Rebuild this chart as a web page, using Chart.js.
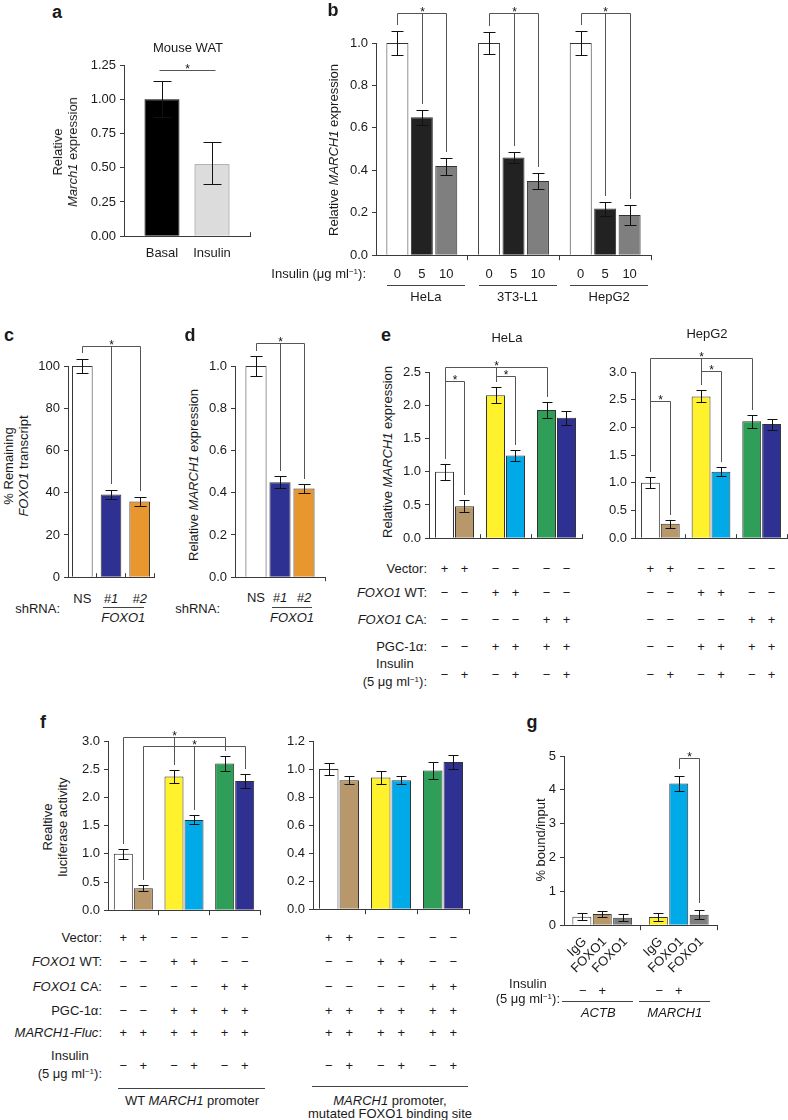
<!DOCTYPE html>
<html><head><meta charset="utf-8">
<script src="https://cdn.jsdelivr.net/npm/chart.js@4.4.0/dist/chart.umd.min.js"></script>
<style>
html,body{margin:0;padding:0;background:#fff;}
#fig{position:relative;width:788px;height:1120px;overflow:hidden;font-family:'Liberation Sans',Arial,Helvetica,sans-serif;font-size:13px;color:#1a1a1a;}
canvas{position:absolute;}
.t{position:absolute;white-space:nowrap;line-height:1;}
.lbl{font-weight:bold;font-size:18px;}
.hl{position:absolute;height:0;border-top:1px solid #444;}
.sup{font-size:8px;position:relative;top:-4px;}
</style></head><body><div id="fig"></div>
<script>
// ---------------- data ----------------
// a: Mouse WAT
const aLabels = ['Basal', 'Insulin'];
const aValues = [1.00, 0.525];
const aErrLow = [0.13, 0.145];
const aErrHigh = [0.135, 0.165];
// b: insulin dose
const bCells = ['HeLa', '3T3-L1', 'HepG2'];
const bDoses = ['0', '5', '10'];
const bDose0 = [1.00, 1.00, 1.00];
const bErr0 = [0.055, 0.05, 0.055];
const bDose5 = [0.65, 0.46, 0.22];
const bErr5 = [0.035, 0.027, 0.033];
const bDose10 = [0.42, 0.35, 0.19];
const bErr10 = [0.04, 0.038, 0.047];
// c, d: shRNA
const cLabels = ['NS', '#1', '#2'];
const cValues = [100, 39.2, 35.8];
const cErr = [3.3, 2.3, 2.2];
const dValues = [1.00, 0.45, 0.42];
const dErr = [0.045, 0.03, 0.022];
// e: FOXO1 / PGC-1a (insulin − / +)
const eGroups = ['Vector', 'FOXO1 WT', 'FOXO1 CA'];
const eHeLaMinus = [1.00, 2.15, 1.93];
const eHeLaMinusErr = [0.12, 0.12, 0.12];
const eHeLaPlus = [0.48, 1.245, 1.81];
const eHeLaPlusErr = [0.09, 0.085, 0.11];
const eHepG2Minus = [1.00, 2.56, 2.11];
const eHepG2MinusErr = [0.10, 0.11, 0.12];
const eHepG2Plus = [0.26, 1.20, 2.06];
const eHepG2PlusErr = [0.07, 0.08, 0.10];
// f: luciferase
const fWTMinus = [1.00, 2.37, 2.60];
const fWTMinusErr = [0.09, 0.12, 0.13];
const fWTPlus = [0.39, 1.60, 2.29];
const fWTPlusErr = [0.055, 0.08, 0.12];
const fMutMinus = [1.00, 0.94, 0.99];
const fMutMinusErr = [0.04, 0.045, 0.06];
const fMutPlus = [0.92, 0.92, 1.05];
const fMutPlusErr = [0.03, 0.03, 0.05];
// g: ChIP
const gGenes = ['ACTB', 'MARCH1'];
const gXLabels = ['IgG', 'FOXO1', 'FOXO1'];
const gIgG = [0.25, 0.24];
const gIgGErr = [0.10, 0.13];
const gFoxo1Basal = [0.33, 4.19];
const gFoxo1BasalErr = [0.10, 0.23];
const gFoxo1Ins = [0.22, 0.31];
const gFoxo1InsErr = [0.11, 0.13];
// table rows
const eRowLabels = ['Vector:', '<i>FOXO1</i> WT:', '<i>FOXO1</i> CA:', 'PGC-1α:'];
const eRowSigns = ['++−−−−', '−−++−−', '−−−−++', '−−++++'];
const insulinSigns = '−+−+−+';
const fRowLabels = ['Vector:', '<i>FOXO1</i> WT:', '<i>FOXO1</i> CA:', 'PGC-1α:', '<i>MARCH1-Fluc</i>:'];
const fWTSigns = ['++−−−−', '−−++−−', '−−−−++', '−−++++', '++++++'];
const fMutSigns = ['++−−−−', '−−++−−', '−−−−++', '++++++', '++++++'];

// ---------------- colours ----------------
const WHITE = '#ffffff', BLACK = '#000000', LIGHT = '#dcdcdc', DARK = '#222222', GRAY = '#7f7f7f';
const NAVY = '#2e3192', ORANGE = '#e8962e', TAN = '#b8976a', YELLOW = '#fff22d', SKY = '#00aae8', GREEN = '#2f9e58';
const MINUS_COLORS = [WHITE, YELLOW, GREEN];
const PLUS_COLORS = [TAN, SKY, NAVY];
const SH_COLORS = [WHITE, NAVY, ORANGE];
const AXIS = '#3a3a3a';

Chart.defaults.font.family = "'Liberation Sans', Arial, Helvetica, sans-serif";
Chart.defaults.font.size = 13;
Chart.defaults.color = '#1a1a1a';

const fig = document.getElementById('fig');

const errorBarPlugin = {
  id: 'errbars',
  afterDatasetsDraw(chart) {
    const ctx = chart.ctx, ys = chart.scales.y;
    ctx.save(); ctx.strokeStyle = '#111'; ctx.lineWidth = 1;
    chart.data.datasets.forEach((ds, di) => {
      chart.getDatasetMeta(di).data.forEach((bar, i) => {
        const v = ds.data[i];
        const x = Math.round(bar.x) + 0.5;
        const yt = Math.round(ys.getPixelForValue(v + ds.errHigh[i])) + 0.5;
        const yb = Math.round(ys.getPixelForValue(v - ds.errLow[i])) + 0.5;
        const cw = Math.round(bar.width * 0.27);
        ctx.beginPath();
        ctx.moveTo(x, yt); ctx.lineTo(x, yb);
        ctx.moveTo(x - cw, yt); ctx.lineTo(x + cw, yt);
        ctx.moveTo(x - cw, yb); ctx.lineTo(x + cw, yb);
        ctx.stroke();
      });
    });
    ctx.restore();
  }
};

function bracketPlugin(items, gap) {
  return {
    id: 'brackets',
    afterDatasetsDraw(chart) {
      const ctx = chart.ctx, ys = chart.scales.y;
      const pt = ([d, i]) => {
        const ds = chart.data.datasets[d];
        const el = chart.getDatasetMeta(d).data[i];
        return { x: Math.round(el.x) + 0.5, yb: Math.round(ys.getPixelForValue(ds.data[i] + ds.errHigh[i]) - gap) };
      };
      ctx.save();
      ctx.strokeStyle = '#555'; ctx.lineWidth = 1; ctx.fillStyle = '#111';
      ctx.font = "12px 'Liberation Sans', Arial, sans-serif";
      ctx.textAlign = 'center'; ctx.textBaseline = 'alphabetic';
      items.forEach(b => {
        const yl = Math.round(ys.getPixelForValue(b.level)) + 0.5;
        const A = pt(b.from), B = pt(b.to);
        ctx.beginPath();
        if (b.flat) {
          ctx.moveTo(A.x - 3, yl); ctx.lineTo(B.x + 3, yl);
        } else {
          ctx.moveTo(A.x, A.yb); ctx.lineTo(A.x, yl); ctx.lineTo(B.x, yl); ctx.lineTo(B.x, B.yb);
          if (b.mid) { const M = pt(b.mid); ctx.moveTo(M.x, yl); ctx.lineTo(M.x, M.yb); }
        }
        ctx.stroke();
        const sx = b.mid ? pt(b.mid).x : (A.x + B.x) / 2;
        ctx.fillText('*', sx, yl + 2);
      });
      ctx.restore();
    }
  };
}

function makePanel(p) {
  const cv = document.createElement('canvas');
  const W = p.yW + (p.right - p.left) + p.padR;
  const H = p.padT + (p.bottom - p.top) + p.xH;
  cv.width = W; cv.height = H;
  cv.style.width = W + 'px'; cv.style.height = H + 'px';
  cv.style.left = (p.left - p.yW) + 'px'; cv.style.top = (p.top - p.padT) + 'px';
  fig.appendChild(cv);
  const ch = new Chart(cv.getContext('2d'), {
    type: 'bar',
    data: {
      labels: p.labels,
      datasets: p.datasets.map(ds => ({
        data: ds.data, errLow: ds.errLow || ds.err, errHigh: ds.errHigh || ds.err,
        backgroundColor: ds.colors, borderColor: ds.border || '#333', borderWidth: 1,
        clip: false, categoryPercentage: p.catPct, barPercentage: p.barPct
      }))
    },
    options: {
      responsive: false, animation: false, devicePixelRatio: 1,
      layout: { padding: { top: p.padT, right: p.padR, left: 0, bottom: 0 } },
      plugins: { legend: { display: false }, tooltip: { enabled: false } },
      events: [],
      scales: {
        x: {
          type: 'category', offset: true,
          ticks: { display: false },
          grid: { display: true, drawOnChartArea: false, offset: true, tickLength: p.xTick,
                  color: c => c.index === 0 ? 'rgba(0,0,0,0)' : AXIS, lineWidth: 1 },
          border: { display: true, color: AXIS, width: 1 },
          afterFit: s => { s.height = p.xH; }
        },
        y: {
          min: p.yMin, max: p.yMax,
          ticks: { stepSize: p.step, callback: v => Number(v).toFixed(p.dec), padding: 4, color: '#1a1a1a' },
          grid: { display: true, drawOnChartArea: false, tickLength: 4, color: AXIS, lineWidth: 1 },
          border: { display: true, color: AXIS, width: 1 },
          afterFit: s => { s.width = p.yW; }
        }
      }
    },
    plugins: [errorBarPlugin, bracketPlugin(p.brackets || [], p.gap || 5)]
  });
  ch.$left = p.left - p.yW;
  return ch;
}

function T(html, x, y, align, cls) {
  const d = document.createElement('div');
  d.className = 't ' + (cls || '');
  d.innerHTML = html;
  const tx = align === 'r' ? '-100%' : align === 'l' ? '0' : '-50%';
  d.style.left = x + 'px'; d.style.top = y + 'px';
  d.style.transform = 'translate(' + tx + ',-50%)';
  fig.appendChild(d);
  return d;
}
function VT(html, x, y) {
  const d = T(html, x, y, 'c');
  d.style.transform = 'translate(-50%,-50%) rotate(-90deg)';
  d.style.textAlign = 'center'; d.style.lineHeight = '15px';
  return d;
}
function RT(html, x, y) {
  const d = T(html, x, y, 'r');
  d.style.transformOrigin = '100% 50%';
  d.style.transform = 'translate(-100%,-50%) rotate(-45deg)';
  return d;
}
function HL(x1, x2, y) {
  const d = document.createElement('div');
  d.className = 'hl';
  d.style.left = x1 + 'px'; d.style.top = y + 'px'; d.style.width = (x2 - x1) + 'px';
  fig.appendChild(d);
}
const bx = (ch, d, i) => ch.$left + ch.getDatasetMeta(d).data[i].x;
const INS_LABEL = (lh) => '<div style="text-align:center;line-height:' + lh + 'px">Insulin<br>(5 μg ml<span class="sup">−1</span>):</div>';

// ---------------- panel a ----------------
const chA = makePanel({ left: 124, top: 65, right: 250, bottom: 240, yW: 45, padT: 12, padR: 6, xH: 8, xTick: -4,
  yMin: 0, yMax: 1.25, step: 0.25, dec: 2, labels: [''], catPct: 0.794, barPct: 0.7,
  datasets: [
    { data: [aValues[0]], errLow: [aErrLow[0]], errHigh: [aErrHigh[0]], colors: BLACK, border: '#000' },
    { data: [aValues[1]], errLow: [aErrLow[1]], errHigh: [aErrHigh[1]], colors: LIGHT, border: '#777' }
  ],
  brackets: [{ from: [0, 0], to: [1, 0], level: 1.21, flat: true }] });
T('<b>a</b>', 57, 12, 'c', 'lbl');
T('Mouse WAT', 188, 47);
aLabels.forEach((l, i) => T(l, bx(chA, i, 0), 252));
VT('Relative<br><i>March1</i> expression', 65, 152);

// ---------------- panel b ----------------
const chB = makePanel({ left: 376, top: 43, right: 651, bottom: 257, yW: 42, padT: 43, padR: 6, xH: 10, xTick: 5,
  yMin: 0, yMax: 1, step: 0.2, dec: 1, labels: bCells, catPct: 0.8, barPct: 0.9,
  datasets: [
    { data: bDose0, err: bErr0, colors: WHITE },
    { data: bDose5, err: bErr5, colors: DARK },
    { data: bDose10, err: bErr10, colors: GRAY }
  ],
  brackets: [0, 1, 2].map(g => ({ from: [0, g], mid: [1, g], to: [2, g], level: 1.14 })), gap: 6 });
T('<b>b</b>', 333, 10, 'c', 'lbl');
VT('Relative <i>MARCH1</i> expression', 333, 150);
T('Insulin (μg ml<span class="sup">−1</span>):', 366, 273, 'r');
bCells.forEach((c, g) => {
  bDoses.forEach((d, k) => T(d, bx(chB, k, g), 273));
  const cx = bx(chB, 1, g) + 4;
  HL(cx - 39, cx + 39, 285);
  T(c, cx, 296);
});

// ---------------- panel c ----------------
const chC = makePanel({ left: 68, top: 366, right: 154, bottom: 581, yW: 34, padT: 42, padR: 4, xH: 8, xTick: -4,
  yMin: 0, yMax: 100, step: 20, dec: 0, labels: cLabels, catPct: 1, barPct: 0.72,
  datasets: [{ data: cValues, err: cErr, colors: SH_COLORS }],
  brackets: [{ from: [0, 0], mid: [0, 1], to: [0, 2], level: 109.3 }], gap: 6 });
T('<b>c</b>', 9, 335, 'c', 'lbl');
VT('% Remaining<br><i>FOXO1</i> transcript', 16, 466);
cLabels.forEach((l, i) => T(i ? '<i>' + l + '</i>' : l, bx(chC, 0, i), 598));
HL(bx(chC, 0, 1) - 8, bx(chC, 0, 2) + 4, 607);
T('<i>FOXO1</i>', (bx(chC, 0, 1) + bx(chC, 0, 2)) / 2 - 2, 617);
T('shRNA:', 60, 608, 'r');

// ---------------- panel d ----------------
const chD = makePanel({ left: 235, top: 366, right: 325, bottom: 581, yW: 34, padT: 42, padR: 4, xH: 8, xTick: 4,
  yMin: 0, yMax: 1, step: 0.2, dec: 1, labels: [''], catPct: 0.8, barPct: 0.88,
  datasets: dValues.map((v, i) => ({ data: [v], err: [dErr[i]], colors: SH_COLORS[i] })),
  brackets: [{ from: [0, 0], mid: [1, 0], to: [2, 0], level: 1.11 }], gap: 5 });
T('<b>d</b>', 190, 335, 'c', 'lbl');
VT('Relative <i>MARCH1</i> expression', 193, 475);
cLabels.forEach((l, i) => T(i ? '<i>' + l + '</i>' : l, bx(chD, i, 0), 597));
HL(bx(chD, 1, 0) - 8, bx(chD, 2, 0) + 8, 607);
T('<i>FOXO1</i>', (bx(chD, 1, 0) + bx(chD, 2, 0)) / 2, 617);
T('shRNA:', 220, 608, 'r');

// ---------------- panel e ----------------
const eBrHeLa = [
  { from: [0, 0], to: [1, 0], level: 2.37 },
  { from: [0, 0], mid: [0, 1], to: [0, 2], level: 2.57 },
  { from: [0, 1], to: [1, 1], level: 2.44 }
];
const eBrHepG2 = [
  { from: [0, 0], to: [1, 0], level: 2.47 },
  { from: [0, 0], mid: [0, 1], to: [0, 2], level: 3.26 },
  { from: [0, 1], to: [1, 1], level: 3.02 }
];
const chE1 = makePanel({ left: 429, top: 372, right: 582, bottom: 542, yW: 34, padT: 32, padR: 4, xH: 8, xTick: -4,
  yMin: 0, yMax: 2.5, step: 0.5, dec: 1, labels: eGroups, catPct: 0.784, barPct: 0.95,
  datasets: [
    { data: eHeLaMinus, err: eHeLaMinusErr, colors: MINUS_COLORS },
    { data: eHeLaPlus, err: eHeLaPlusErr, colors: PLUS_COLORS }
  ], brackets: eBrHeLa, gap: 5 });
const chE2 = makePanel({ left: 635, top: 372, right: 787, bottom: 542, yW: 34, padT: 42, padR: 1, xH: 8, xTick: -4,
  yMin: 0, yMax: 3, step: 0.5, dec: 1, labels: eGroups, catPct: 0.784, barPct: 0.95,
  datasets: [
    { data: eHepG2Minus, err: eHepG2MinusErr, colors: MINUS_COLORS },
    { data: eHepG2Plus, err: eHepG2PlusErr, colors: PLUS_COLORS }
  ], brackets: eBrHepG2, gap: 5 });
T('<b>e</b>', 386, 335, 'c', 'lbl');
T('HeLa', 507, 337);
T('HepG2', 707, 333);
VT('Relative <i>MARCH1</i> expression', 387, 452);
const pairOrder = [[0, 0], [1, 0], [0, 1], [1, 1], [0, 2], [1, 2]];
const eRowY = [568, 592, 619, 646];
eRowLabels.forEach((l, r) => {
  T(l, 427, eRowY[r], 'r');
  [chE1, chE2].forEach(ch => pairOrder.forEach(([d, i], k) => T(eRowSigns[r][k], bx(ch, d, i), eRowY[r])));
});
T(INS_LABEL(18), 427, 674, 'r');
[chE1, chE2].forEach(ch => pairOrder.forEach(([d, i], k) => T(insulinSigns[k], bx(ch, d, i), 674)));

// ---------------- panel f ----------------
const chF1 = makePanel({ left: 108, top: 741, right: 260, bottom: 912, yW: 34, padT: 32, padR: 4, xH: 10, xTick: 5,
  yMin: 0, yMax: 3, step: 0.5, dec: 1, labels: eGroups, catPct: 0.79, barPct: 0.95,
  datasets: [
    { data: fWTMinus, err: fWTMinusErr, colors: MINUS_COLORS },
    { data: fWTPlus, err: fWTPlusErr, colors: PLUS_COLORS }
  ],
  brackets: [
    { from: [0, 0], mid: [0, 1], to: [0, 2], level: 3.07 },
    { from: [1, 0], mid: [1, 1], to: [1, 2], level: 2.91 }
  ], gap: 5 });
const chF2 = makePanel({ left: 313, top: 741, right: 469, bottom: 911, yW: 34, padT: 12, padR: 4, xH: 10, xTick: 5,
  yMin: 0, yMax: 1.2, step: 0.2, dec: 1, labels: eGroups, catPct: 0.79, barPct: 0.95,
  datasets: [
    { data: fMutMinus, err: fMutMinusErr, colors: MINUS_COLORS },
    { data: fMutPlus, err: fMutPlusErr, colors: PLUS_COLORS }
  ] });
T('<b>f</b>', 43, 722, 'c', 'lbl');
VT('Realtive<br>luciferase activity', 55, 827);
const fRowY = [937, 961, 986, 1010, 1032];
fRowLabels.forEach((l, r) => {
  T(l, 102, fRowY[r], 'r');
  pairOrder.forEach(([d, i], k) => T(fWTSigns[r][k], bx(chF1, d, i), fRowY[r]));
  pairOrder.forEach(([d, i], k) => T(fMutSigns[r][k], bx(chF2, d, i), fRowY[r]));
});
T(INS_LABEL(18), 102, 1066, 'r');
pairOrder.forEach(([d, i], k) => { T(insulinSigns[k], bx(chF1, d, i), 1065); T(insulinSigns[k], bx(chF2, d, i), 1065); });
HL(118, 265, 1088);
T('WT <i>MARCH1</i> promoter', 192, 1100);
HL(312, 468, 1086);
T('<i>MARCH1</i> promoter,', 390, 1100);
T('mutated FOXO1 binding site', 390, 1113);

// ---------------- panel g ----------------
const chG = makePanel({ left: 564, top: 756, right: 717, bottom: 927, yW: 24, padT: 22, padR: 4, xH: 10, xTick: 5,
  yMin: 0, yMax: 5, step: 1, dec: 0, labels: gGenes, catPct: 0.8, barPct: 0.93,
  datasets: [
    { data: gIgG, err: gIgGErr, colors: [WHITE, YELLOW] },
    { data: gFoxo1Basal, err: gFoxo1BasalErr, colors: [TAN, SKY] },
    { data: gFoxo1Ins, err: gFoxo1InsErr, colors: [GRAY, GRAY] }
  ],
  brackets: [{ from: [1, 1], to: [2, 1], level: 4.94 }], gap: 7 });
T('<b>g</b>', 532, 722, 'c', 'lbl');
VT('% bound/input', 540, 840);
gGenes.forEach((gene, g) => {
  gXLabels.forEach((l, d) => RT(l, bx(chG, d, g) + 2, 939));
  T('−', bx(chG, 0, g) + 1, 990);
  T('+', bx(chG, 1, g), 990);
  const cx = bx(chG, 1, g) - 4;
  HL(cx - 36, cx + 35, 1001);
  T('<i>' + gene + '</i>', cx, 1012);
});
T(INS_LABEL(15), 560, 992, 'r');
</script></body></html>
